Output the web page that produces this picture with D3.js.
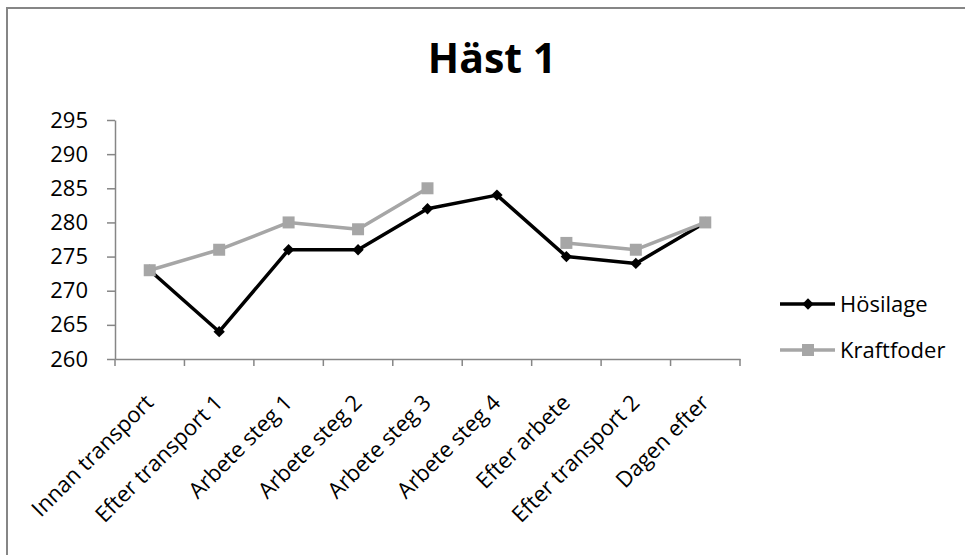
<!DOCTYPE html>
<html><head><meta charset="utf-8">
<script src="https://cdn.jsdelivr.net/npm/d3@7"></script>
<style>body{margin:0;background:#fff}svg{display:block;font-family:"Open Sans",sans-serif}</style>
</head><body><svg id="c" width="965" height="555"></svg>
<script>
const categories = ["Innan transport","Efter transport 1","Arbete steg 1","Arbete steg 2","Arbete steg 3","Arbete steg 4","Efter arbete","Efter transport 2","Dagen efter"];
const hosilage = [273,264,276,276,282,284,275,274,280];
const kraftfoder = [273,276,280,279,285,null,277,276,280];
const yTicks = [260,265,270,275,280,285,290,295];
const seriesNames = ["Hösilage","Kraftfoder"];
const title = "Häst 1";

const svg = d3.select("#c");
svg.append("rect").attr("x",7).attr("y",8).attr("width",990).attr("height",600)
  .attr("fill","#fff").attr("stroke","#868686").attr("stroke-width",2);

const L=115,R=740,T=120,B=359;
const x = d3.scaleBand().domain(categories).range([L,R]);
const y = d3.scaleLinear().domain([260,295]).range([B,T]);

svg.append("text").attr("x",492).attr("y",73).attr("text-anchor","middle")
  .attr("font-size",41).attr("font-weight","bold").text(title);

const ya = svg.append("g").attr("transform",`translate(${L},0)`)
  .call(d3.axisLeft(y).tickValues(yTicks).tickSize(8).tickPadding(19).tickSizeOuter(0));
ya.select(".domain").attr("stroke","#868686").attr("stroke-width",1.5);
ya.selectAll(".tick line").attr("stroke","#868686").attr("stroke-width",1.5);
ya.selectAll(".tick text").attr("font-size",22).attr("fill","#000").attr("font-family","Open Sans");

const xa = svg.append("g").attr("transform",`translate(0,${B})`)
  .call(d3.axisBottom(x).tickSize(0).tickFormat(""));
xa.select(".domain").attr("stroke","#868686").attr("stroke-width",1.5);
const xt = svg.append("g");
const edges = d3.range(categories.length+1).map(i=>L+i*x.bandwidth());
xt.selectAll("line").data(edges).join("line")
  .attr("x1",d=>d).attr("x2",d=>d).attr("y1",B).attr("y2",B+7)
  .attr("stroke","#868686").attr("stroke-width",1.5);
xt.selectAll("text").data(categories).join("text")
  .attr("transform",d=>`translate(${x(d)+x.bandwidth()/2+5},${B+45}) rotate(-45)`)
  .attr("text-anchor","end").attr("font-size",22).text(d=>d);

const cx = d=>x(d)+x.bandwidth()/2;
const diamondPath = d3.symbol().type(d3.symbolSquare).size(64)();
const squarePath = d3.symbol().type(d3.symbolSquare).size(144)();
function drawSeries(vals,color,isDiamond){
  const line = d3.line().defined(d=>d[1]!=null).x(d=>cx(d[0])).y(d=>y(d[1]));
  const data = categories.map((c,i)=>[c,vals[i]]);
  svg.append("path").datum(data).attr("d",line).attr("fill","none")
    .attr("stroke",color).attr("stroke-width",3.5).attr("stroke-linejoin","round");
  svg.append("g").selectAll("path").data(data.filter(d=>d[1]!=null)).join("path")
    .attr("transform",d=>`translate(${cx(d[0])},${y(d[1])})`+(isDiamond?" rotate(45)":""))
    .attr("d",isDiamond?diamondPath:squarePath)
    .attr("fill",color);
}
drawSeries(hosilage,"#000",true);
drawSeries(kraftfoder,"#a6a6a6",false);

const legend = [{n:seriesNames[0],c:"#000",d:true,y:304},{n:seriesNames[1],c:"#a6a6a6",d:false,y:350}];
const lg = svg.append("g").selectAll("g").data(legend).join("g");
lg.append("line").attr("x1",780).attr("x2",835).attr("y1",d=>d.y).attr("y2",d=>d.y)
  .attr("stroke",d=>d.c).attr("stroke-width",3.5);
lg.append("path").attr("transform",d=>`translate(808,${d.y})`+(d.d?" rotate(45)":""))
  .attr("d",d=>d.d?diamondPath:squarePath).attr("fill",d=>d.c);
lg.append("text").attr("x",840).attr("y",d=>d.y).attr("dy","0.35em")
  .attr("font-size",22).text(d=>d.n);
</script></body></html>
